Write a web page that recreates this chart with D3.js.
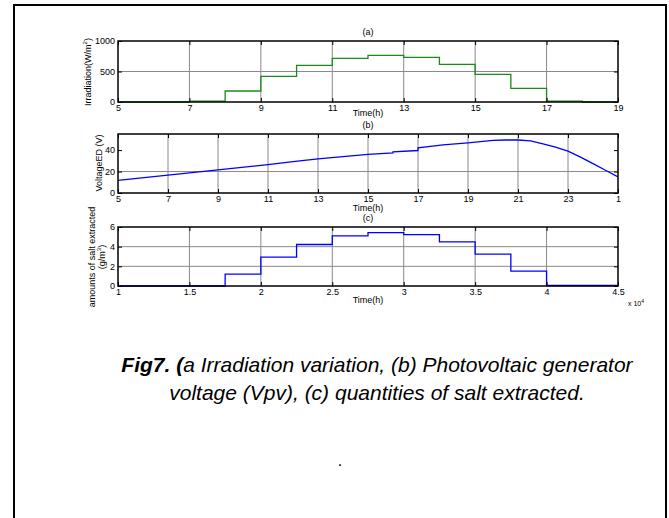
<!DOCTYPE html>
<html>
<head>
<meta charset="utf-8">
<script src="https://cdn.jsdelivr.net/npm/d3@7"></script>
<style>
  body { margin: 0; background: #fff; }
  text { font-family: Arial, "Liberation Sans", sans-serif; fill: #000; }
</style>
</head>
<body>
<svg id="chart" width="669" height="518"></svg>
<script>
// (a) irradiation, step values start at each hour
var irrHours = [5, 7, 8, 9, 10, 11, 12, 13, 14, 15, 16, 17, 18, 19];
var irrValues = [0, 15, 180, 421, 600, 716, 765, 733, 618, 454, 224, 15, 0, 0];
var irrTicks = [5, 7, 9, 11, 13, 15, 17, 19];

// (b) voltage of the ED stack
var vHours = [5, 7, 9, 11, 12, 13, 14, 15, 16, 16, 17, 17, 18, 19, 20, 20.5, 21, 21.5, 22, 22.5, 23, 23.5, 24, 24.5, 25];
var vValues = [11.7, 16.6, 21.5, 26.4, 29.2, 31.8, 34, 36, 37.3, 38.4, 39.6, 42.1, 44.8, 46.8, 49, 49.4, 49.4, 48.6, 45.8, 42.8, 39, 33.5, 27.4, 21.2, 15];
var vTicks = [5, 7, 9, 11, 13, 15, 17, 19, 21, 23, 25];

// (c) salt extracted, time in units of 10^4
var sTime = [1, 1.75, 2, 2.25, 2.5, 2.75, 3, 3.25, 3.5, 3.75, 4, 4.5];
var sValues = [0, 1.21, 2.93, 4.22, 5.09, 5.43, 5.23, 4.49, 3.24, 1.52, 0.05, 0.05];
var sTicks = [1, 1.5, 2, 2.5, 3, 3.5, 4, 4.5];

var svg = d3.select("#chart");

svg.append("rect").attr("width", 669).attr("height", 518).attr("fill", "#fff");

// page frame, open at the bottom
svg.append("path")
  .attr("d", "M14,518V5H666V518")
  .attr("fill", "none")
  .attr("stroke", "#000")
  .attr("stroke-width", 2);

var left = 118, width = 500;

function panel(opts) {
  var x = d3.scaleLinear().domain(opts.xDomain).range([left, left + width]);
  var y = d3.scaleLinear().domain(opts.yDomain).range([opts.bottom, opts.top]);
  var g = svg.append("g");

  // grid
  g.append("g").selectAll("line")
    .data(opts.xTicks.slice(1, -1))
    .enter().append("line")
    .attr("x1", d => x(d)).attr("x2", d => x(d))
    .attr("y1", opts.top).attr("y2", opts.bottom)
    .attr("stroke", "#8a8a8a").attr("stroke-width", 1);
  g.append("g").selectAll("line")
    .data(opts.yTicks.slice(1, -1))
    .enter().append("line")
    .attr("x1", left).attr("x2", left + width)
    .attr("y1", d => y(d)).attr("y2", d => y(d))
    .attr("stroke", "#8a8a8a").attr("stroke-width", 1);

  // data line
  var line = d3.line()
    .x(d => x(d[0]))
    .y(d => y(d[1]))
    .curve(opts.step ? d3.curveStepAfter : d3.curveLinear);
  g.append("path")
    .datum(d3.zip(opts.xs, opts.ys))
    .attr("d", line)
    .attr("fill", "none")
    .attr("stroke", opts.color)
    .attr("stroke-width", 1.3);

  // axes, ticks inside on all four sides
  var xb = d3.axisBottom(x).tickValues(opts.xTicks).tickSize(-4).tickPadding(2.5).tickFormat(opts.xFormat);
  var xt = d3.axisTop(x).tickValues(opts.xTicks).tickSize(-4).tickFormat("");
  var yl = d3.axisLeft(y).tickValues(opts.yTicks).tickSize(-4).tickPadding(3).tickFormat(d3.format("d"));
  var yr = d3.axisRight(y).tickValues(opts.yTicks).tickSize(-4).tickFormat("");

  g.append("g").attr("transform", "translate(0," + opts.bottom + ")").call(xb);
  g.append("g").attr("transform", "translate(0," + opts.top + ")").call(xt);
  g.append("g").attr("transform", "translate(" + left + ",0)").call(yl);
  g.append("g").attr("transform", "translate(" + (left + width) + ",0)").call(yr);

  g.selectAll(".domain").remove();
  g.selectAll(".tick line").attr("stroke", "#000").attr("stroke-width", 1);
  g.selectAll(".tick text").attr("font-size", 9).attr("font-family", "Arial, 'Liberation Sans', sans-serif");

  g.append("rect")
    .attr("x", left).attr("y", opts.top)
    .attr("width", width).attr("height", opts.bottom - opts.top)
    .attr("fill", "none").attr("stroke", "#000").attr("stroke-width", 1.5);

  // title and x label
  g.append("text")
    .attr("x", left + width / 2).attr("y", opts.top - 9)
    .attr("text-anchor", "middle").attr("dominant-baseline", "central")
    .attr("font-size", 9).text(opts.title);
  g.append("text")
    .attr("x", left + width / 2).attr("y", opts.bottom + opts.labelGap)
    .attr("text-anchor", "middle").attr("dominant-baseline", "central")
    .attr("font-size", 9).text("Time(h)");

  return g;
}

// (a)
var ga = panel({
  top: 41, bottom: 102, labelGap: 10.5,
  xDomain: [5, 19], yDomain: [0, 1000],
  xTicks: irrTicks, yTicks: [0, 500, 1000],
  xFormat: d3.format("d"),
  xs: irrHours, ys: irrValues, step: true,
  color: "#1a8a1a", title: "(a)"
});
var la = ga.append("text")
  .attr("transform", "translate(88,72) rotate(-90)")
  .attr("text-anchor", "middle").attr("dominant-baseline", "central")
  .attr("font-size", 9);
la.append("tspan").text("Irradiation(W/m");
la.append("tspan").attr("font-size", 6).attr("dy", -3).text("2");
la.append("tspan").attr("dy", 3).text(")");

// (b)
var gb = panel({
  top: 134, bottom: 193, labelGap: 15,
  xDomain: [5, 25], yDomain: [0, 55],
  xTicks: vTicks, yTicks: [0, 20, 40],
  xFormat: d => String(d > 24 ? d - 24 : d),
  xs: vHours, ys: vValues, step: false,
  color: "#0000ff", title: "(b)"
});
gb.append("text")
  .attr("transform", "translate(99,163) rotate(-90)")
  .attr("text-anchor", "middle").attr("dominant-baseline", "central")
  .attr("font-size", 9).text("VoltageED (V)");

// (c)
var gc = panel({
  top: 227, bottom: 286, labelGap: 14,
  xDomain: [1, 4.5], yDomain: [0, 6],
  xTicks: sTicks, yTicks: [0, 2, 4, 6],
  xFormat: d => String(d),
  xs: sTime, ys: sValues, step: true,
  color: "#0000ff", title: "(c)"
});
gc.append("text")
  .attr("transform", "translate(92,257) rotate(-90)")
  .attr("text-anchor", "middle").attr("dominant-baseline", "central")
  .attr("font-size", 9).text("amounts of salt extracted");
var lc = gc.append("text")
  .attr("transform", "translate(102,257) rotate(-90)")
  .attr("text-anchor", "middle").attr("dominant-baseline", "central")
  .attr("font-size", 9);
lc.append("tspan").text("(g/m");
lc.append("tspan").attr("font-size", 6).attr("dy", -3).text("3");
lc.append("tspan").attr("dy", 3).text(")");
var ex = gc.append("text")
  .attr("x", 628).attr("y", 306)
  .attr("font-size", 7);
ex.append("tspan").text("x 10");
ex.append("tspan").attr("font-size", 5).attr("dy", -3).text("4");

// caption
var cap = svg.append("text")
  .attr("x", 377).attr("y", 372)
  .attr("text-anchor", "middle")
  .attr("font-size", 21).attr("font-style", "italic");
cap.append("tspan").attr("font-weight", "bold").text("Fig7. (");
cap.append("tspan").text("a Irradiation variation, (b) Photovoltaic generator");
svg.append("text")
  .attr("x", 377).attr("y", 400)
  .attr("text-anchor", "middle")
  .attr("font-size", 21).attr("font-style", "italic")
  .text("voltage (Vpv), (c) quantities of salt extracted.");
svg.append("text")
  .attr("x", 340).attr("y", 466)
  .attr("text-anchor", "middle")
  .attr("font-size", 16).text(".");
</script>
</body>
</html>
